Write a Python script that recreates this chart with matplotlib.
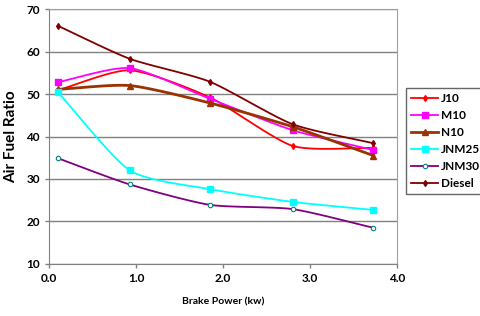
import numpy as np
import matplotlib.pyplot as plt

# data
power = [0.1, 0.93, 1.85, 2.8, 3.73]
j10 = [50.9, 55.6, 49.2, 37.8, 37.3]
m10 = [52.8, 56.1, 48.9, 41.5, 36.8]
n10 = [51.1, 52.0, 47.9, 42.3, 35.5]
jnm25 = [50.5, 32.0, 27.6, 24.6, 22.7]
jnm30 = [34.9, 28.7, 23.9, 22.9, 18.5]
diesel = [66.1, 58.3, 52.9, 42.9, 38.4]

labels = ['J10', 'M10', 'N10', 'JNM25', 'JNM30', 'Diesel']
series = [j10, m10, n10, jnm25, jnm30, diesel]
colors = ['#FF0000', '#FF00FF', '#993300', '#00FFFF', '#800080', '#800000']
markers = ['d', 's', '^', 's', 'o', 'd']
msizes = [3.0, 4.0, 4.0, 4.8, 3.2, 3.0]
lwidths = [1.3, 1.3, 2.0, 1.3, 1.3, 1.3]

plt.rcParams['font.family'] = ['Lato', 'DejaVu Sans']
plt.rcParams['font.weight'] = 'bold'


def smooth(x, y, n=30):
    # Catmull-Rom style curve through the points, like Excel's smoothed line
    x = np.asarray(x, float)
    y = np.asarray(y, float)
    px = np.concatenate([[2 * x[0] - x[1]], x, [2 * x[-1] - x[-2]]])
    py = np.concatenate([[2 * y[0] - y[1]], y, [2 * y[-1] - y[-2]]])
    xs, ys = [], []
    t = np.linspace(0, 1, n)
    h00 = 2 * t**3 - 3 * t**2 + 1
    h10 = t**3 - 2 * t**2 + t
    h01 = -2 * t**3 + 3 * t**2
    h11 = t**3 - t**2
    for i in range(1, len(px) - 2):
        for p, out in ((px, xs), (py, ys)):
            p0, p1, p2, p3 = p[i - 1], p[i], p[i + 1], p[i + 2]
            m1 = (p2 - p0) / 2 * 0.66
            m2 = (p3 - p1) / 2 * 0.66
            out.extend(h00 * p1 + h10 * m1 + h01 * p2 + h11 * m2)
    return xs, ys


fig = plt.figure(figsize=(4.8, 3.16), dpi=100)
ax = fig.add_axes([0.102, 0.165, 0.725, 0.806])

for lab, ys, c, mk, ms, lw in zip(labels, series, colors, markers, msizes, lwidths):
    sx, sy = smooth(power, ys)
    ax.plot(sx, sy, color=c, lw=lw)
    if lab == 'JNM30':
        style = dict(mfc='white', mec='#008080', mew=0.8)
    else:
        style = dict(color=c)
    ax.plot(power, ys, ls='none', marker=mk, ms=ms, **style)
    # legend proxy
    ax.plot([], [], color=c, lw=lw, marker=mk, ms=ms, label=lab, **{k: v for k, v in style.items() if k != 'color'})

ax.set_xlim(0, 4)
ax.set_ylim(10, 70)
ax.set_xticks([0, 1, 2, 3, 4])
ax.set_xticklabels(['0.0', '1.0', '2.0', '3.0', '4.0'])
ax.set_yticks(range(10, 71, 10))
ax.yaxis.grid(True, color='#808080', lw=1)
ax.set_axisbelow(True)
ax.tick_params(labelsize=8.5, length=3, color='#808080', width=1)
for s in ['top', 'right']:
    ax.spines[s].set_color('#A0A0A0')
for s in ['left', 'bottom']:
    ax.spines[s].set_color('#808080')

ax.set_xlabel('Brake Power (kw)', fontsize=7.5, fontweight='bold', labelpad=10)
ax.set_ylabel('Air Fuel Ratio', fontsize=11, fontweight='bold', labelpad=6)

leg = ax.legend(loc='upper left', bbox_to_anchor=(1.026, 0.69), fontsize=8.5,
                frameon=True, fancybox=False, handlelength=2.3,
                handletextpad=0.2, labelspacing=0.5, borderpad=0.45,
                borderaxespad=0)
leg.get_frame().set_edgecolor('#404040')
leg.get_frame().set_linewidth(1)

fig.savefig('out.png', dpi=100)
